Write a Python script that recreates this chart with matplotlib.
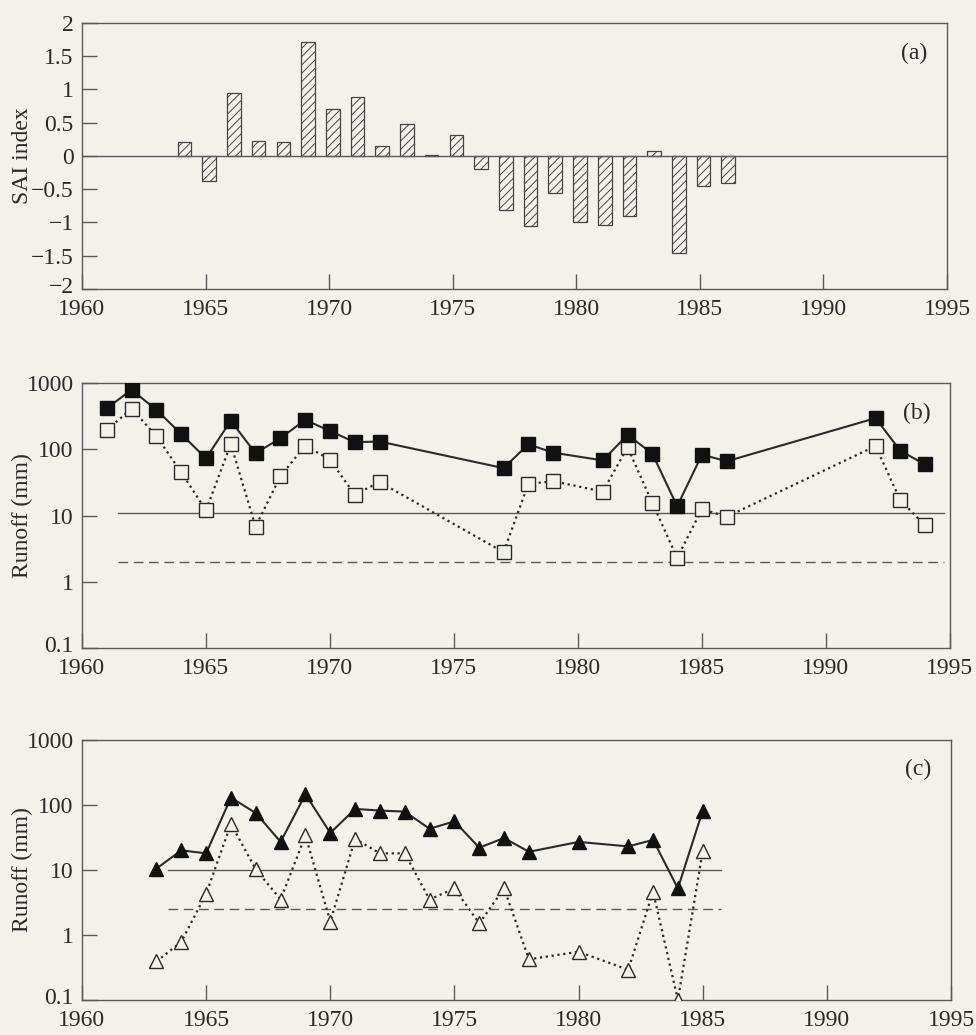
"""
Three panels: SAI index bars (a) and two runoff series on log axes (b, c)
"""
import matplotlib.pyplot as plt
import matplotlib.transforms as mtransforms
from matplotlib.ticker import FixedLocator, FuncFormatter, NullLocator

# (a) SAI index, one bar per year
sai_years = list(range(1964, 1987))
sai_values = [0.21, -0.37, 0.95, 0.23, 0.21, 1.71, 0.70, 0.89, 0.15, 0.48, 0.01,
              0.31, -0.19, -0.81, -1.06, -0.55, -1.00, -1.04, -0.91, 0.07, -1.46,
              -0.45, -0.40]

# (b) runoff, filled and open squares
b_years = [1961, 1962, 1963, 1964, 1965, 1966, 1967, 1968, 1969, 1970, 1971, 1972,
           1977, 1978, 1979, 1981, 1982, 1983, 1984, 1985, 1986, 1992, 1993, 1994]
b_filled = [417, 790, 395, 170, 73, 270, 87, 147, 278, 189, 128, 131,
            52, 119, 89, 68, 165, 86, 13.8, 83, 66, 295, 95, 59]
b_open = [196, 410, 158, 45, 12, 120, 6.8, 39, 114, 70, 20.6, 32,
          2.8, 30, 33, 23, 107, 15.5, 2.3, 12.5, 9.6, 112, 17, 7.1]
b_levels = [10.9, 2.0]

# (c) runoff, filled and open triangles
c_years = [1963, 1964, 1965, 1966, 1967, 1968, 1969, 1970, 1971, 1972, 1973,
           1974, 1975, 1976, 1977, 1978, 1980, 1982, 1983, 1984, 1985]
c_filled = [10.5, 20, 18, 130, 75, 27, 146, 37, 87, 82, 79,
            43, 56, 22, 31, 19, 27, 23, 29, 5.2, 82]
c_open = [0.39, 0.78, 4.3, 51, 10.2, 3.5, 34, 1.6, 30, 18, 18,
          3.5, 5.2, 1.5, 5.2, 0.42, 0.55, 0.29, 4.6, 0.1, 19.6]
c_levels = [10.0, 2.5]

xticks = [1960, 1965, 1970, 1975, 1980, 1985, 1990, 1995]
sai_ticks = [-2, -1.5, -1, -0.5, 0, 0.5, 1, 1.5, 2]
log_ticks = [0.1, 1, 10, 100, 1000]

paper = '#f2f1ea'
ink = '#2a2a2a'
frame = '#5a5a5a'

plt.rcParams['font.family'] = ['Liberation Serif', 'DejaVu Serif']
plt.rcParams['font.size'] = 17
plt.rcParams['hatch.linewidth'] = 0.7
plt.rcParams['axes.unicode_minus'] = True

fig = plt.figure(figsize=(9.76, 10.35), dpi=100, facecolor=paper)
lift = mtransforms.ScaledTranslation(0, 4 / 100, fig.dpi_scale_trans)


def style_axes(ax, label, tag):
    ax.set_facecolor(paper)
    for s in ax.spines.values():
        s.set_color(frame)
        s.set_linewidth(1.0)
    ax.set_xlim(1960, 1995)
    ax.xaxis.set_major_locator(FixedLocator(xticks))
    ax.xaxis.set_minor_locator(NullLocator())
    ax.tick_params(axis='both', which='major', direction='in', length=11,
                   width=1.0, color=frame, labelcolor=ink, labelsize=17)
    ax.tick_params(axis='x', pad=7)
    ax.tick_params(axis='y', pad=6)
    ax.set_ylabel(label, color=ink, fontsize=17, va='center')
    ax.yaxis.set_label_coords(-0.069, 0.5)
    ax.text(0.962, 0.885, tag, transform=ax.transAxes, ha='center', va='center',
            fontsize=17, color=ink)
    # bottom y label sits just above the first year label, as in the print
    fig.canvas.draw()
    bottom = ax.get_yticklabels()[0]
    bottom.set_transform(bottom.get_transform() + lift)


# panel (a)
ax1 = fig.add_axes([0.0840, 0.7208, 0.8863, 0.2570])
ax1.bar([y + 0.15 for y in sai_years], sai_values, width=0.55, color=paper,
        edgecolor='#444444', linewidth=0.9, hatch='////', zorder=2)
ax1.axhline(0, color=frame, linewidth=1.0, zorder=3)
ax1.set_ylim(-2, 2)
ax1.yaxis.set_major_locator(FixedLocator(sai_ticks))
ax1.yaxis.set_major_formatter(FuncFormatter(lambda v, p: f'{v:g}'.replace('-', '\u2212')))
style_axes(ax1, 'SAI index', '(a)')


def log_panel(rect, years, filled, opened, levels, marker, tag):
    ax = fig.add_axes(rect)
    ax.set_yscale('log')
    ax.set_ylim(0.1, 1000)
    x0, x1 = years[0] + 0.45, years[-1] + 0.75
    ax.plot([x0, x1], [levels[0], levels[0]], color=frame, linewidth=1.0, zorder=1)
    ax.plot([x0, x1], [levels[1], levels[1]], color=frame, linewidth=1.0,
            linestyle=(0, (7, 4)), zorder=1)
    ax.plot(years, opened, linestyle=':', linewidth=1.6, color=ink, marker=marker,
            markersize=10, markerfacecolor=paper, markeredgecolor=ink,
            markeredgewidth=1.0, zorder=3)
    ax.plot(years, filled, linestyle='-', linewidth=1.5, color=ink, marker=marker,
            markersize=10, markerfacecolor='#111111', markeredgecolor='#111111',
            zorder=4)
    ax.yaxis.set_major_locator(FixedLocator(log_ticks))
    ax.yaxis.set_minor_locator(NullLocator())
    ax.yaxis.set_major_formatter(FuncFormatter(lambda v, p: f'{v:g}'))
    style_axes(ax, 'Runoff (mm)', tag)
    return ax


ax2 = log_panel([0.0840, 0.3739, 0.8893, 0.2560], b_years, b_filled, b_open,
                b_levels, 's', '(b)')
ax3 = log_panel([0.0840, 0.0340, 0.8904, 0.2510], c_years, c_filled, c_open,
                c_levels, '^', '(c)')

fig.savefig('out.png', dpi=100, facecolor=paper)
